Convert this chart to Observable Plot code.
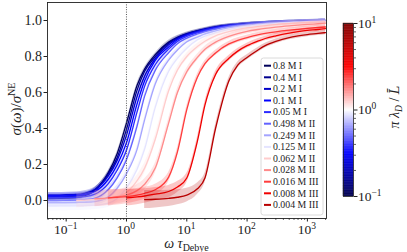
<!DOCTYPE html>
<html><head><meta charset="utf-8">
<script src="https://cdn.jsdelivr.net/npm/d3@7"></script>
<script src="https://cdn.jsdelivr.net/npm/@observablehq/plot@0.6"></script>
<style>
body{margin:0;background:#fff;}
#wrap{position:relative;width:407px;height:252px;overflow:hidden;}
#wrap svg{position:absolute;left:0;top:0;}
</style></head><body><div id="wrap"></div>
<script>
// ---------- data ----------
const omega = [0.05,0.07,0.1,0.15,0.2,0.3,0.5,0.7,1,1.5,2,3,5,7,10,15,20,30,50,70,100,150,200,300,500,700,1000,1500,2000];

const labels = ["0.8 M I","0.4 M I","0.2 M I","0.1 M I","0.05 M I","0.498 M II","0.249 M II","0.125 M II","0.062 M II","0.028 M II","0.016 M III","0.008 M III","0.004 M III"];
const colors = ["#00005a","#00008f","#0000c8","#0000ff","#2a2aff","#6262ff","#a4a4ff","#e4e4ff","#ffcccc","#ff8a8a","#ff3c3c","#f00000","#b80000"];

const s_08_I   = [0.011,0.012,0.013,0.016,0.025,0.058,0.155,0.26,0.43,0.64,0.73,0.81,0.88,0.907,0.927,0.944,0.953,0.965,0.974,0.978,0.982,0.986,0.988,0.991,0.994,0.996,0.998,0.999,1.0];
const s_04_I   = [0.02,0.021,0.022,0.025,0.031,0.059,0.148,0.238,0.395,0.613,0.718,0.799,0.874,0.905,0.925,0.942,0.951,0.963,0.973,0.977,0.981,0.985,0.987,0.99,0.993,0.995,0.997,0.998,0.999];
const s_02_I   = [0.03,0.03,0.032,0.034,0.04,0.061,0.137,0.223,0.362,0.578,0.691,0.788,0.865,0.899,0.922,0.939,0.95,0.962,0.973,0.976,0.98,0.984,0.986,0.99,0.993,0.994,0.996,0.998,0.999];
const s_01_I   = [0.025,0.025,0.026,0.029,0.032,0.05,0.118,0.197,0.32,0.537,0.665,0.779,0.853,0.893,0.918,0.935,0.947,0.96,0.971,0.975,0.979,0.983,0.986,0.989,0.992,0.994,0.996,0.998,0.999];
const s_005_I  = [0.015,0.015,0.016,0.018,0.021,0.035,0.094,0.168,0.279,0.492,0.634,0.754,0.841,0.884,0.912,0.931,0.943,0.956,0.968,0.974,0.978,0.982,0.985,0.989,0.992,0.994,0.996,0.998,0.999];
const s_0498_II = [0.0,0.0,0.001,0.002,0.005,0.013,0.061,0.126,0.227,0.414,0.58,0.723,0.821,0.871,0.902,0.925,0.938,0.952,0.967,0.973,0.976,0.981,0.984,0.988,0.991,0.993,0.995,0.997,0.998];
const s_0249_II = [-0.012,-0.012,-0.012,-0.011,-0.01,-0.006,0.02,0.068,0.149,0.284,0.448,0.647,0.78,0.836,0.882,0.908,0.926,0.943,0.96,0.967,0.973,0.979,0.982,0.986,0.99,0.992,0.994,0.996,0.997];
const s_0125_II = [-0.03,-0.03,-0.03,-0.03,-0.029,-0.026,-0.015,0.011,0.07,0.174,0.286,0.517,0.718,0.79,0.846,0.893,0.913,0.932,0.951,0.96,0.969,0.975,0.979,0.983,0.988,0.99,0.993,0.994,0.996];
const s_0062_II = [null,null,null,0.0,0.002,0.006,0.012,0.022,0.045,0.11,0.18,0.34,0.61,0.725,0.8,0.855,0.885,0.915,0.938,0.95,0.96,0.967,0.972,0.978,0.983,0.986,0.989,0.991,0.993];
const s_0028_II = [null,null,null,null,null,0.01,0.015,0.02,0.03,0.055,0.09,0.18,0.43,0.6,0.715,0.795,0.84,0.88,0.912,0.927,0.94,0.95,0.956,0.963,0.97,0.974,0.978,0.982,0.985];
const s_0016_III = [null,null,null,null,null,null,0.015,0.018,0.022,0.03,0.04,0.06,0.13,0.27,0.505,0.685,0.76,0.82,0.87,0.89,0.905,0.92,0.928,0.937,0.946,0.951,0.956,0.961,0.964];
const s_0008_III = [null,null,null,null,null,null,null,null,0.015,0.02,0.025,0.035,0.05,0.075,0.125,0.33,0.53,0.70,0.79,0.83,0.86,0.885,0.9,0.915,0.93,0.938,0.945,0.95,0.955];
const s_0004_III = [null,null,null,null,null,null,null,null,null,null,0.005,0.007,0.012,0.018,0.03,0.065,0.125,0.40,0.665,0.752,0.795,0.835,0.86,0.884,0.905,0.914,0.922,0.928,0.933];

// half-width of the shaded uncertainty band
const e_08_I   = [0.012,0.012,0.012,0.012,0.012,0.012,0.012,0.012,0.012,0.012,0.011,0.01,0.01,0.009,0.009,0.008,0.008,0.008,0.008,0.008,0.008,0.008,0.008,0.008,0.008,0.008,0.008,0.008,0.008];
const e_04_I   = [0.013,0.013,0.013,0.013,0.013,0.013,0.013,0.013,0.012,0.012,0.011,0.01,0.01,0.009,0.009,0.008,0.008,0.008,0.008,0.008,0.008,0.008,0.008,0.008,0.008,0.008,0.008,0.008,0.008];
const e_02_I   = [0.014,0.014,0.014,0.014,0.014,0.014,0.013,0.013,0.012,0.012,0.011,0.01,0.01,0.009,0.009,0.008,0.008,0.008,0.008,0.008,0.008,0.008,0.008,0.008,0.008,0.008,0.008,0.008,0.008];
const e_01_I   = [0.016,0.016,0.016,0.016,0.015,0.015,0.014,0.013,0.012,0.012,0.011,0.01,0.01,0.009,0.009,0.008,0.008,0.008,0.008,0.008,0.008,0.008,0.008,0.008,0.008,0.008,0.008,0.008,0.008];
const e_005_I  = [0.018,0.018,0.018,0.017,0.017,0.016,0.015,0.014,0.013,0.012,0.011,0.01,0.01,0.009,0.009,0.009,0.009,0.009,0.009,0.009,0.009,0.009,0.009,0.009,0.009,0.009,0.009,0.009,0.009];
const e_0498_II = [0.02,0.02,0.02,0.019,0.018,0.017,0.016,0.015,0.014,0.013,0.012,0.011,0.01,0.01,0.01,0.01,0.01,0.01,0.01,0.01,0.01,0.01,0.01,0.01,0.01,0.01,0.01,0.01,0.01];
const e_0249_II = [0.024,0.024,0.023,0.022,0.021,0.02,0.018,0.017,0.016,0.015,0.014,0.013,0.012,0.011,0.011,0.011,0.011,0.011,0.011,0.011,0.011,0.011,0.011,0.011,0.011,0.011,0.011,0.011,0.011];
const e_0125_II = [0.028,0.028,0.027,0.026,0.025,0.024,0.022,0.02,0.018,0.017,0.016,0.015,0.014,0.013,0.012,0.012,0.012,0.012,0.012,0.012,0.012,0.012,0.012,0.012,0.012,0.012,0.012,0.012,0.012];
const e_0062_II = [null,null,null,0.04,0.04,0.04,0.038,0.035,0.032,0.03,0.028,0.025,0.022,0.02,0.018,0.017,0.016,0.015,0.015,0.015,0.015,0.015,0.015,0.015,0.015,0.015,0.015,0.015,0.015];
const e_0028_II = [null,null,null,null,null,0.045,0.043,0.04,0.037,0.033,0.03,0.027,0.024,0.022,0.02,0.018,0.017,0.016,0.015,0.015,0.015,0.015,0.015,0.015,0.015,0.015,0.015,0.015,0.015];
const e_0016_III = [null,null,null,null,null,null,0.045,0.043,0.04,0.036,0.033,0.03,0.026,0.022,0.02,0.018,0.016,0.015,0.014,0.014,0.013,0.013,0.013,0.013,0.013,0.013,0.013,0.013,0.013];
const e_0008_III = [null,null,null,null,null,null,null,null,0.045,0.043,0.04,0.037,0.034,0.03,0.026,0.022,0.02,0.018,0.016,0.015,0.014,0.013,0.013,0.013,0.013,0.013,0.013,0.013,0.013];
const e_0004_III = [null,null,null,null,null,null,null,null,null,null,0.05,0.048,0.045,0.042,0.038,0.032,0.026,0.022,0.019,0.017,0.015,0.014,0.013,0.013,0.012,0.012,0.012,0.012,0.012];

const refOmega = [1];
const xTicks = [0.1,1,10,100,1000];
const xTickExp = ["\u22121","0","1","2","3"];
const yTicks = [0,0.2,0.4,0.6,0.8,1.0];
const cbTicks = [0.1,1,10];
const cbTickExp = ["\u22121","0","1"];
const cbStops = [0.1,0.316,1,3.16,10];
const cbColors = ["#00004d","#0000ff","#ffffff","#ff0000","#800000"];

// ---------- build ----------
const seriesValues = [s_08_I,s_04_I,s_02_I,s_01_I,s_005_I,s_0498_II,s_0249_II,s_0125_II,s_0062_II,s_0028_II,s_0016_III,s_0008_III,s_0004_III];
const seriesErrors = [e_08_I,e_04_I,e_02_I,e_01_I,e_005_I,e_0498_II,e_0249_II,e_0125_II,e_0062_II,e_0028_II,e_0016_III,e_0008_III,e_0004_III];

const FONT = "Liberation Serif, DejaVu Serif, serif";
const INK = "#222";

const minorX = [];
for (let p = -2; p <= 3; p++) for (let m = 2; m <= 9; m++) { const v = m * 10 ** p; if (v >= 0.049 && v <= 2075) minorX.push(v); }

const marks = [];
labels.forEach((lab, k) => {
  const d = [];
  seriesValues[k].forEach((v, i) => { if (v != null) d.push({omega: omega[i], sigma: v, lo: v - seriesErrors[k][i], hi: v + seriesErrors[k][i]}); });
  marks.push(Plot.areaY(d, {x: "omega", y1: "lo", y2: "hi", fill: colors[k], fillOpacity: 0.22, curve: "monotone-x"}));
  marks.push(Plot.lineY(d, {x: "omega", y: "sigma", stroke: colors[k], strokeWidth: 1.3, curve: "monotone-x"}));
});

const plot = Plot.plot({
  width: 407, height: 252,
  marginLeft: 47, marginRight: 81, marginTop: 2, marginBottom: 34,
  style: {fontFamily: FONT, background: "transparent"},
  x: {type: "log", domain: [0.049, 2075]},
  y: {domain: [-0.1, 1.1]},
  marks: [
    ...marks,
    Plot.ruleX(refOmega, {stroke: "#444", strokeWidth: 0.9, strokeDasharray: "1,1.4"}),
    Plot.frame({stroke: INK, strokeWidth: 0.9}),
    Plot.axisY(yTicks, {tickSize: 3.5, tickPadding: 2, tickFormat: d3.format(".1f"), fontSize: 14, stroke: INK, fill: INK, label: null}),
    Plot.axisX(xTicks, {tickSize: 3.5, tickFormat: () => "", stroke: INK, label: null}),
    Plot.axisX(minorX, {tickSize: 2, tickFormat: () => "", stroke: INK, strokeWidth: 0.7, label: null})
  ]
});

const wrap = document.getElementById("wrap");
wrap.appendChild(plot);
const svg = d3.select(plot);
const xs = plot.scale("x");

// x tick labels with superscripts
xTicks.forEach((v, i) => {
  const t = svg.append("text").attr("x", xs.apply(v)).attr("y", 234).attr("text-anchor", "middle")
    .attr("font-family", FONT).attr("font-size", 13.5).attr("fill", INK);
  t.append("tspan").text("10");
  t.append("tspan").attr("dy", -5).attr("font-size", 9.5).text(xTickExp[i]);
});

// axis labels
const xl = svg.append("text").attr("x", 186.5).attr("y", 248).attr("text-anchor", "middle")
  .attr("font-family", FONT).attr("font-size", 14).attr("fill", INK);
xl.append("tspan").attr("font-style", "italic").text("\u03c9 \u03c4");
xl.append("tspan").attr("dy", 3).attr("font-size", 10).text("Debye");

const yl = svg.append("text").attr("transform", "translate(21,109) rotate(-90)").attr("text-anchor", "middle")
  .attr("font-family", FONT).attr("font-size", 15).attr("fill", INK);
yl.append("tspan").attr("font-style", "italic").text("\u03c3");
yl.append("tspan").text("(");
yl.append("tspan").attr("font-style", "italic").text("\u03c9");
yl.append("tspan").text(")/");
yl.append("tspan").attr("font-style", "italic").text("\u03c3");
yl.append("tspan").attr("dy", -6).attr("font-size", 10).text("NE");

// legend
const lg = svg.append("g").attr("text-anchor", "start");
lg.append("rect").attr("x", 261).attr("y", 58).attr("width", 62).attr("height", 157).attr("rx", 2.5)
  .style("fill", "#ffffff").style("fill-opacity", 0.85).style("stroke", "#d0d0d0").style("stroke-width", 0.8);
labels.forEach((lab, k) => {
  const y = 65.7 + k * 11.6;
  lg.append("line").attr("x1", 264).attr("x2", 271).attr("y1", y).attr("y2", y).style("stroke", colors[k]).style("stroke-width", 2);
  lg.append("text").attr("x", 273).attr("y", y + 3.3).attr("text-anchor", "start").attr("font-family", FONT).attr("font-size", 9.8).style("fill", INK).text(lab);
});

// colorbar (separate Plot with log y scale)
const cbSlices = d3.range(240).map(i => ({a: 10 ** (-1 + i / 120), b: 10 ** (-1 + (i + 1) / 120)}));
const minorCb = [];
for (let p = -1; p <= 0; p++) for (let m = 2; m <= 9; m++) minorCb.push(m * 10 ** p);
const cb = Plot.plot({
  width: 407, height: 252,
  marginLeft: 343, marginRight: 54, marginTop: 23, marginBottom: 56,
  style: {background: "transparent"},
  x: {domain: [0, 1], axis: null},
  y: {type: "log", domain: [0.1, 10], axis: null},
  color: {type: "log", domain: cbStops, range: cbColors, interpolate: "rgb"},
  marks: [
    Plot.rect(cbSlices, {x1: 0, x2: 1, y1: "a", y2: "b", fill: d => Math.sqrt(d.a * d.b), stroke: d => Math.sqrt(d.a * d.b), strokeWidth: 0.4}),
    Plot.frame({stroke: INK, strokeWidth: 0.8}),
    Plot.axisY(cbTicks, {anchor: "right", tickSize: 3.5, tickFormat: () => "", stroke: INK, label: null}),
    Plot.axisY(minorCb, {anchor: "right", tickSize: 2, tickFormat: () => "", stroke: INK, strokeWidth: 0.7, label: null})
  ]
});
cb.style.pointerEvents = "none";
wrap.appendChild(cb);
const cbs = d3.select(cb);
const ys = cb.scale("y");
cbTicks.forEach((v, i) => {
  const t = cbs.append("text").attr("x", 358).attr("y", ys.apply(v) + 4.5).attr("text-anchor", "start")
    .attr("font-family", FONT).attr("font-size", 13.5).style("fill", INK);
  t.append("tspan").text("10");
  t.append("tspan").attr("dy", -5).attr("font-size", 9.5).text(cbTickExp[i]);
});
const cl = cbs.append("text").attr("transform", "translate(399,107) rotate(-90)").attr("text-anchor", "middle")
  .attr("font-family", FONT).attr("font-size", 14).style("fill", INK);
cl.append("tspan").attr("font-style", "italic").text("\u03c0 \u03bb");
cl.append("tspan").attr("dy", 3).attr("font-size", 9.5).attr("font-style", "italic").text("D");
cl.append("tspan").attr("dy", -3).text(" / ");
cl.append("tspan").attr("font-style", "italic").attr("font-family", "DejaVu Serif").attr("font-size", 13).text("L\u0304");
</script></body></html>
